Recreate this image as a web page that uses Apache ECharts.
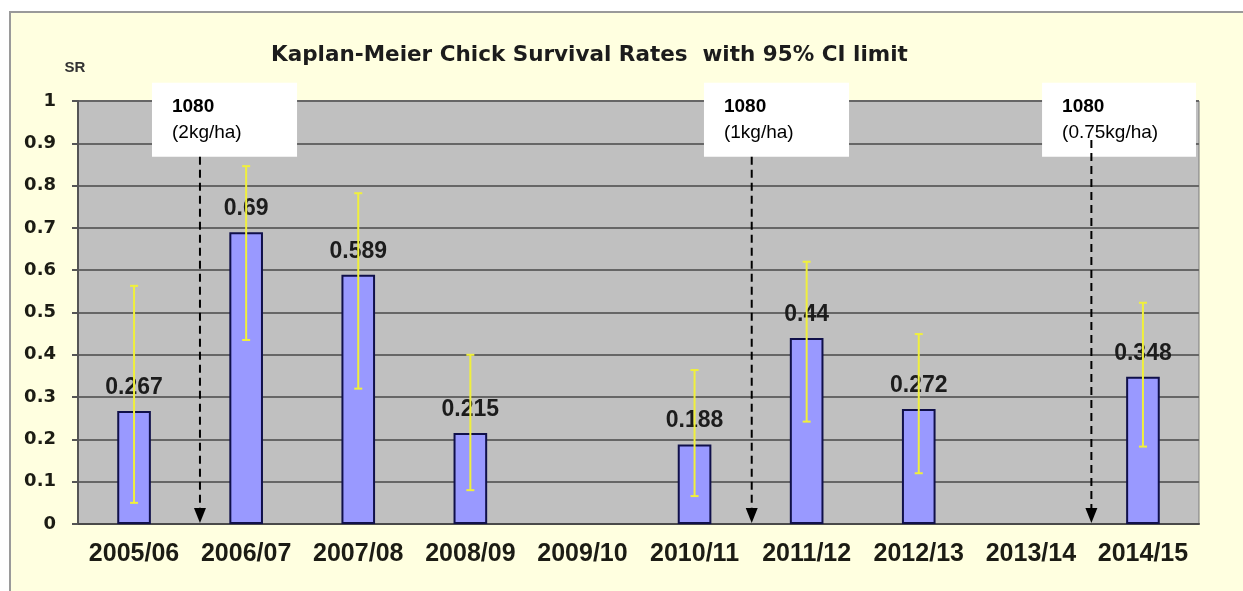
<!DOCTYPE html>
<html>
<head>
<meta charset="utf-8">
<style>
  html, body { margin: 0; padding: 0; background: #fff; }
  #chart { width: 1243px; height: 591px; }
</style>
<script src="https://cdn.jsdelivr.net/npm/echarts@6/dist/echarts.min.js"></script>
</head>
<body>
<div id="chart"></div>
<script>
// seasons and Kaplan-Meier survival rates, with 95% CI bounds
const seasons = ['2005/06', '2006/07', '2007/08', '2008/09', '2009/10', '2010/11', '2011/12', '2012/13', '2013/14', '2014/15']
const survival = [0.267, 0.69, 0.589, 0.215, null, 0.188, 0.44, 0.272, null, 0.348]
const ciLower = [0.05, 0.435, 0.32, 0.08, null, 0.066, 0.242, 0.12, null, 0.183]
const ciUpper = [0.563, 0.846, 0.782, 0.40, null, 0.364, 0.62, 0.449, null, 0.523]
const yTickLabels = ['0', '0.1', '0.2', '0.3', '0.4', '0.5', '0.6', '0.7', '0.8', '0.9', '1']
const doseTitle = '1080'
const doseLabels = ['(2kg/ha)', '(1kg/ha)', '(0.75kg/ha)']

const chart = echarts.init(document.getElementById('chart'))

// annotation boxes and arrows, placed on a hidden 0..10 value axis
const boxes = [[0.66, 1.954], [5.584, 6.878], [8.6, 9.973]]
const arrows = [[1.088, 0.868], [6.01, 0.868], [9.04, 0.908]]

const ciData = []
seasons.forEach((s, i) => {
  if (ciLower[i] != null) ciData.push([i, ciLower[i], ciUpper[i]])
})

const option = {
  backgroundColor: '#fff',
  animation: false,
  graphic: [{
    type: 'rect',
    z: -10,
    shape: { x: 10, y: 12, width: 1300, height: 700 },
    style: { fill: '#ffffe0', stroke: '#9a9a9a', lineWidth: 2 }
  }],
  title: {
    text: 'Kaplan-Meier Chick Survival Rates  with 95% CI limit',
    left: 266,
    top: 39,
    textStyle: { fontFamily: 'DejaVu Sans', fontWeight: 'bold', fontSize: 21.5, color: '#1c1c1c' }
  },
  grid: {
    left: 78,
    right: 44,
    top: 101,
    bottom: 67,
    show: true,
    backgroundColor: '#c0c0c0',
    borderColor: '#7a7a7a',
    borderWidth: 1
  },
  xAxis: [{
    type: 'category',
    data: seasons,
    axisTick: { show: false },
    axisLine: { lineStyle: { color: '#4a4a4a', width: 2 } },
    axisLabel: {
      interval: 0,
      margin: 18,
      fontFamily: 'Liberation Sans',
      fontWeight: 'bold',
      fontSize: 25,
      color: '#1c1c14'
    }
  }, {
    type: 'value',
    min: 0,
    max: 10,
    show: false
  }],
  yAxis: {
    type: 'value',
    min: 0,
    max: 1,
    interval: 0.1,
    name: 'SR',
    nameGap: 26,
    nameTextStyle: { fontFamily: 'Liberation Sans', fontWeight: 'bold', fontSize: 15, color: '#333', padding: [0, 6, 0, 0] },
    axisLine: { show: true, lineStyle: { color: '#555', width: 2 } },
    axisTick: { show: true, length: 6, lineStyle: { color: '#555', width: 2 } },
    splitLine: { lineStyle: { color: '#666', width: 2 } },
    axisLabel: {
      margin: 22,
      fontFamily: 'DejaVu Sans',
      fontWeight: 'bold',
      fontSize: 18,
      color: '#1c1c14',
      formatter: v => yTickLabels[Math.round(v * 10)]
    }
  },
  series: [{
    type: 'bar',
    data: survival,
    barWidth: '30%',
    z: 2,
    itemStyle: { color: '#9999ff', borderColor: '#10104a', borderWidth: 2 },
    label: {
      show: true,
      position: 'top',
      distance: 12,
      fontFamily: 'Liberation Sans',
      fontWeight: 'bold',
      fontSize: 23,
      color: '#1c1c1c'
    }
  }, {
    type: 'custom',
    z: 3,
    data: ciData,
    renderItem: (params, api) => {
      const top = api.coord([api.value(0), api.value(2)])
      const bot = api.coord([api.value(0), api.value(1)])
      const st = { stroke: '#f0f03c', lineWidth: 2 }
      return {
        type: 'group',
        children: [
          { type: 'line', shape: { x1: top[0], y1: top[1], x2: bot[0], y2: bot[1] }, style: st },
          { type: 'line', shape: { x1: top[0] - 4, y1: top[1], x2: top[0] + 4, y2: top[1] }, style: st },
          { type: 'line', shape: { x1: bot[0] - 4, y1: bot[1], x2: bot[0] + 4, y2: bot[1] }, style: st }
        ]
      }
    }
  }, {
    type: 'custom',
    xAxisIndex: 1,
    z: 4,
    data: boxes.map((b, i) => [b[0], b[1], i]),
    renderItem: (params, api) => {
      const tl = api.coord([api.value(0), 1.043])
      const br = api.coord([api.value(1), 0.868])
      const i = api.value(2)
      return {
        type: 'group',
        children: [
          { type: 'rect', shape: { x: tl[0], y: tl[1], width: br[0] - tl[0], height: br[1] - tl[1] }, style: { fill: '#fff' } },
          { type: 'text', x: tl[0] + 20, y: tl[1] + 24, style: { text: doseTitle, fontFamily: 'Liberation Sans', fontWeight: 'bold', fontSize: 19, fill: '#000', verticalAlign: 'middle' } },
          { type: 'text', x: tl[0] + 20, y: tl[1] + 50, style: { text: doseLabels[i], fontFamily: 'Liberation Sans', fontSize: 19, fill: '#000', verticalAlign: 'middle' } }
        ]
      }
    }
  }, {
    type: 'custom',
    xAxisIndex: 1,
    z: 5,
    data: arrows,
    renderItem: (params, api) => {
      const top = api.coord([api.value(0), api.value(1)])
      const tip = api.coord([api.value(0), 0])
      const x = top[0]
      const tipY = tip[1] - 1
      return {
        type: 'group',
        children: [
          { type: 'line', shape: { x1: x, y1: top[1], x2: x, y2: tipY - 12 }, style: { stroke: '#000', lineWidth: 2, lineDash: [8, 5] } },
          { type: 'polygon', shape: { points: [[x - 6, tipY - 15], [x + 6, tipY - 15], [x, tipY]] }, style: { fill: '#000' } }
        ]
      }
    }
  }]
}

chart.setOption(option)
</script>
</body>
</html>
